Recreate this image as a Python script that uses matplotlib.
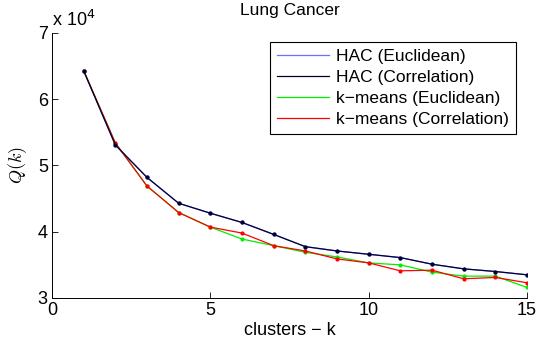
import matplotlib
matplotlib.use('Agg')
import matplotlib.pyplot as plt
from matplotlib.ticker import FuncFormatter

plt.rcParams['font.family'] = ['Liberation Sans', 'DejaVu Sans']
plt.rcParams['mathtext.fontset'] = 'cm'

k = [1, 2, 3, 4, 5, 6, 7, 8, 9, 10, 11, 12, 13, 14, 15]
hac_euc = [64300, 53100, 48200, 44300, 42800, 41400, 39600, 37750, 37100, 36600, 36100, 35100, 34400, 34000, 33500]
hac_cor = [64300, 53100, 48200, 44300, 42800, 41400, 39600, 37750, 37100, 36600, 36100, 35100, 34400, 34000, 33500]
km_euc = [64300, 53400, 46900, 42900, 40700, 38900, 37900, 36900, 36200, 35300, 35000, 33900, 33300, 33300, 31600]
km_cor = [64300, 53400, 46900, 42900, 40700, 39800, 37900, 37100, 35900, 35300, 34100, 34200, 32900, 33100, 32300]

fig = plt.figure(figsize=(5.38, 3.48), dpi=100)
ax = fig.add_axes([52/538, 50/348, 475/538, 265/348])

ax.plot(k, hac_euc, '.-', color='#6f6fff', lw=0.9, ms=4, label='HAC (Euclidean)')
ax.plot(k, km_euc, '.-', color='#00ee00', lw=0.9, ms=4, label='k\u2212means (Euclidean)')
ax.plot(k, km_cor, '.-', color='#ff0000', lw=0.9, ms=4, label='k\u2212means (Correlation)')
ax.plot(k, hac_cor, '.-', color='#000033', lw=0.9, ms=4, label='HAC (Correlation)')

h, l = ax.get_legend_handles_labels()
order = [0, 3, 1, 2]
leg = ax.legend([h[i] for i in order], [l[i] for i in order], loc='upper right',
                bbox_to_anchor=(0.977, 0.966), fontsize=12.5, fancybox=False, framealpha=1,
                edgecolor='black', handlelength=3.0, borderpad=0.4, labelspacing=0.34,
                handletextpad=0.4, borderaxespad=0)
leg.get_frame().set_linewidth(0.8)
for line in leg.get_lines():
    line.set_marker('')

ax.set_xlim(0, 15)
ax.set_ylim(30000, 70000)
ax.set_xticks([0, 5, 10, 15])
ax.set_yticks([30000, 40000, 50000, 60000, 70000])
ax.yaxis.set_major_formatter(FuncFormatter(lambda v, p: '%g' % (v / 1e4)))
ax.tick_params(direction='in', labelsize=13, length=4, width=0.6, pad=3)
for s in ['top', 'right']:
    ax.spines[s].set_visible(False)
for s in ['left', 'bottom']:
    ax.spines[s].set_linewidth(0.7)

ax.text(0.0, 1.01, 'x 10$^4$', transform=ax.transAxes, fontsize=13, va='bottom', ha='left',
        math_fontfamily='dejavusans')
ax.set_title('Lung Cancer', fontsize=12.5, pad=13)
ax.set_xlabel('clusters \u2212 k', fontsize=13, labelpad=2)
ax.set_ylabel('$Q(k)$', fontsize=13, labelpad=6)

fig.savefig('out.png', dpi=100)
